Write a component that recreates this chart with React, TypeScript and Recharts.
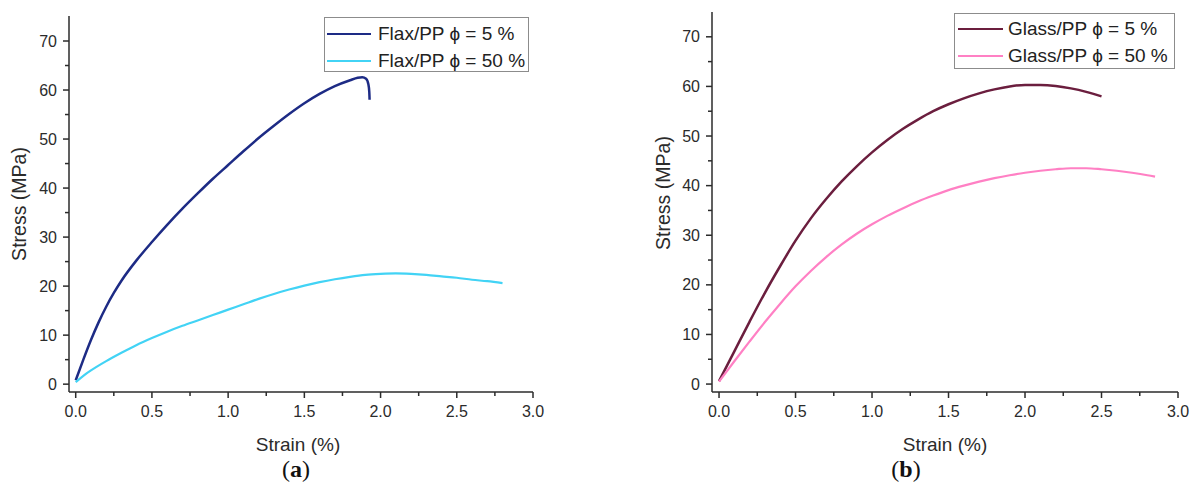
import { Label, Legend, Line, LineChart, XAxis, YAxis } from "recharts";

const strainTicks = [0, 0.25, 0.5, 0.75, 1, 1.25, 1.5, 1.75, 2, 2.25, 2.5, 2.75, 3];
const stressTicks = [0, 5, 10, 15, 20, 25, 30, 35, 40, 45, 50, 55, 60, 65, 70];

const flax5Strain = [0, 0.05, 0.1, 0.15, 0.2, 0.25, 0.3, 0.4, 0.5, 0.6, 0.7, 0.8, 0.9, 1.0, 1.1, 1.2, 1.3, 1.4, 1.5, 1.6, 1.7, 1.8, 1.85, 1.88, 1.905, 1.92, 1.926, 1.928];
const flax5Stress = [0.8, 5.0, 9.0, 12.6, 15.8, 18.6, 21.1, 25.3, 29.0, 32.5, 35.8, 38.9, 41.9, 44.7, 47.5, 50.2, 52.7, 55.1, 57.3, 59.2, 60.8, 62.0, 62.5, 62.6, 62.3, 61.2, 59.6, 58.0];

const flax50Strain = [0, 0.05, 0.1, 0.2, 0.3, 0.4, 0.5, 0.6, 0.7, 0.8, 0.9, 1.0, 1.1, 1.2, 1.3, 1.4, 1.5, 1.6, 1.7, 1.8, 1.9, 2.0, 2.1, 2.2, 2.3, 2.4, 2.5, 2.6, 2.7, 2.8];
const flax50Stress = [0.4, 1.7, 2.8, 4.7, 6.4, 8.0, 9.4, 10.7, 11.9, 13.0, 14.1, 15.2, 16.3, 17.4, 18.4, 19.3, 20.1, 20.8, 21.4, 21.9, 22.3, 22.5, 22.6, 22.5, 22.3, 22.0, 21.7, 21.3, 21.0, 20.6];

const glass5Strain = [0, 0.1, 0.2, 0.3, 0.4, 0.5, 0.6, 0.7, 0.8, 0.9, 1.0, 1.1, 1.2, 1.3, 1.4, 1.5, 1.6, 1.7, 1.8, 1.9, 2.0, 2.1, 2.2, 2.3, 2.4, 2.5];
const glass5Stress = [0.6, 6.6, 12.6, 18.4, 23.8, 28.9, 33.4, 37.3, 40.8, 43.9, 46.7, 49.2, 51.4, 53.3, 55.0, 56.4, 57.6, 58.6, 59.4, 60.0, 60.3, 60.3, 60.1, 59.6, 58.9, 58.0];

const glass50Strain = [0, 0.1, 0.2, 0.3, 0.4, 0.5, 0.6, 0.7, 0.8, 0.9, 1.0, 1.1, 1.2, 1.3, 1.4, 1.5, 1.6, 1.7, 1.8, 1.9, 2.0, 2.1, 2.2, 2.3, 2.4, 2.5, 2.6, 2.7, 2.8, 2.85];
const glass50Stress = [0.5, 4.6, 8.6, 12.5, 16.2, 19.7, 22.8, 25.6, 28.1, 30.3, 32.2, 33.9, 35.4, 36.8, 38.0, 39.1, 40.0, 40.8, 41.5, 42.1, 42.6, 43.0, 43.3, 43.5, 43.5, 43.3, 43.0, 42.6, 42.1, 41.8];

const zip = (xs: number[], ys: number[]) => xs.map((x, i) => ({ x, y: ys[i] }));

const FONT = "'Liberation Sans', Arial, sans-serif";
const AXIS = "#2b2b2b";
const TEXT = "#2b2b2b";

function StrainTick({ x, y, payload }: any) {
  const v = payload.value;
  const major = Math.abs(v * 2 - Math.round(v * 2)) < 1e-6;
  return (
    <g>
      <line x1={x} x2={x} y1={y} y2={y + (major ? 6 : 4)} stroke={AXIS} strokeWidth={1.5} />
      {major && (
        <text x={x} y={y + 25} textAnchor="middle" fontSize={16} fill={TEXT} fontFamily={FONT}>
          {v.toFixed(1)}
        </text>
      )}
    </g>
  );
}

function StressTick({ x, y, payload }: any) {
  const v = payload.value;
  const major = v % 10 === 0;
  return (
    <g>
      <line x1={x} x2={x - (major ? 6 : 4)} y1={y} y2={y} stroke={AXIS} strokeWidth={1.5} />
      {major && (
        <text x={x - 12} y={y} dy="0.35em" textAnchor="end" fontSize={16} fill={TEXT} fontFamily={FONT}>
          {v}
        </text>
      )}
    </g>
  );
}

function LegendBox({ payload, box }: any) {
  return (
    <div
      style={{
        position: "relative",
        width: box.w,
        height: box.h,
        border: "1.5px solid #8c8c8c",
        boxSizing: "border-box",
        background: "#fff",
        fontFamily: FONT,
      }}
    >
      {(payload || []).map((p: any, i: number) => (
        <div
          key={p.value}
          style={{ position: "absolute", left: 0, top: box.rows[i] - 12, height: 24, display: "flex", alignItems: "center" }}
        >
          <span style={{ display: "inline-block", marginLeft: box.lineX, width: box.lineW, height: 2.5, background: p.color }} />
          <span style={{ marginLeft: box.gap, fontSize: 19, color: "#222", whiteSpace: "nowrap" }}>{p.value}</span>
        </div>
      ))}
    </div>
  );
}

function Panel({ cfg }: { cfg: any }) {
  return (
    <div style={{ position: "absolute", left: cfg.left, top: 0 }}>
      <LineChart width={cfg.width} height={491} margin={cfg.margin}>
        <XAxis
          type="number"
          dataKey="x"
          domain={cfg.xDomain}
          ticks={strainTicks}
          interval={0}
          allowDataOverflow
          height={60}
          tickSize={0}
          tickMargin={0}
          tickLine={false}
          axisLine={{ stroke: AXIS, strokeWidth: 1.5 }}
          tick={<StrainTick />}
        >
          <Label
            content={() => (
              <text x={cfg.strainTitle[0]} y={cfg.strainTitle[1]} dy="0.35em" textAnchor="middle" fontSize={19} fill={TEXT} fontFamily={FONT}>
                Strain (%)
              </text>
            )}
          />
        </XAxis>
        <YAxis
          type="number"
          domain={cfg.yDomain}
          ticks={stressTicks}
          interval={0}
          allowDataOverflow
          width={cfg.yWidth}
          tickSize={0}
          tickMargin={0}
          tickLine={false}
          axisLine={{ stroke: AXIS, strokeWidth: 1.5 }}
          tick={<StressTick />}
        >
          <Label
            content={() => (
              <text
                x={cfg.stressTitle[0]}
                y={cfg.stressTitle[1]}
                dy="0.35em"
                textAnchor="middle"
                fontSize={19.5}
                fill={TEXT}
                fontFamily={FONT}
                transform={`rotate(-90 ${cfg.stressTitle[0]} ${cfg.stressTitle[1]})`}
              >
                Stress (MPa)
              </text>
            )}
          />
        </YAxis>
        <Legend
          layout="horizontal"
          verticalAlign="middle"
          align="center"
          wrapperStyle={{ top: cfg.legend.top, left: cfg.legend.left, width: cfg.legend.w, height: cfg.legend.h }}
          content={(props: any) => <LegendBox {...props} box={cfg.legend} />}
        />
        {cfg.series.map((s: any) => (
          <Line
            key={s.name}
            name={s.name}
            data={s.data}
            dataKey="y"
            type="monotone"
            stroke={s.color}
            strokeWidth={s.width}
            dot={false}
            isAnimationActive={false}
          />
        ))}
      </LineChart>
      <div
        style={{
          position: "absolute",
          left: cfg.tag[0] - 25,
          top: cfg.tag[1] - 15,
          width: 50,
          textAlign: "center",
          fontFamily: "'Liberation Serif', 'DejaVu Serif', serif",
          fontSize: 24,
          lineHeight: "30px",
          color: "#111",
        }}
      >
        (<b>{cfg.letter}</b>)
      </div>
    </div>
  );
}

const panelA = {
  left: 0,
  width: 596,
  margin: { top: 16, right: 63, bottom: 39, left: 0 },
  yWidth: 69,
  xDomain: [-0.044, 3],
  yDomain: [-1.6, 75.1],
  legend: { left: 324, top: 17, w: 205, h: 55, rows: [16, 43], lineX: 2, lineW: 44, gap: 7 },
  stressTitle: [19, 204],
  strainTitle: [298, 444],
  tag: [296, 469],
  letter: "a",
  series: [
    { name: "Flax/PP \u03d5 = 5 %", data: zip(flax5Strain, flax5Stress), color: "#1d2b85", width: 2.5 },
    { name: "Flax/PP \u03d5 = 50 %", data: zip(flax50Strain, flax50Stress), color: "#42d3f5", width: 2.2 },
  ],
};

const panelB = {
  left: 596,
  width: 600,
  margin: { top: 12, right: 18, bottom: 39, left: 0 },
  yWidth: 116,
  xDomain: [-0.046, 3],
  yDomain: [-1.6, 75],
  legend: { left: 358, top: 13, w: 221, h: 56, rows: [15, 42], lineX: 3, lineW: 45, gap: 5 },
  stressTitle: [67, 193],
  strainTitle: [349, 444],
  tag: [310, 469],
  letter: "b",
  series: [
    { name: "Glass/PP \u03d5 = 5 %", data: zip(glass5Strain, glass5Stress), color: "#6b1e3e", width: 2.5 },
    { name: "Glass/PP \u03d5 = 50 %", data: zip(glass50Strain, glass50Stress), color: "#ff80c4", width: 2.2 },
  ],
};

export default function App() {
  return (
    <div style={{ position: "absolute", left: 0, top: 0, width: 1196, height: 491, background: "#fff", overflow: "hidden" }}>
      <Panel cfg={panelA} />
      <Panel cfg={panelB} />
    </div>
  );
}
